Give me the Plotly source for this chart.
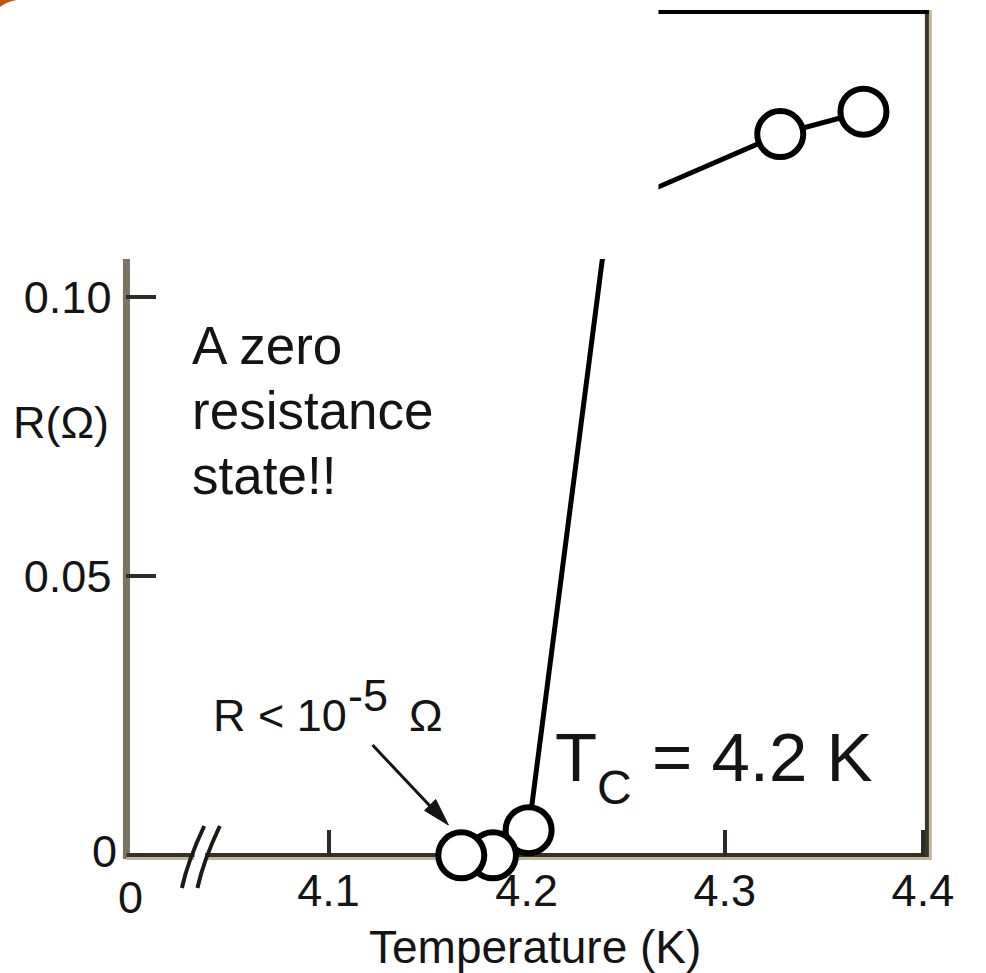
import plotly.graph_objects as go

W, H = 986, 973
FONT = "Liberation Sans, Arial, Helvetica, sans-serif"
INK = "#141414"

# ---- data: mercury resistance vs temperature ----------------------------
# superconducting transition (lower panel, R in ohm)
temp_low = [4.167, 4.183, 4.201]
res_low = [0.0, 0.0, 0.0045]
# the steep rise leaves the lower panel through its top edge
temp_rise = [4.167, 4.183, 4.201, 4.243]
res_rise = [0.0, 0.0, 0.0045, 0.120]

# normal-state points shown above the axis break
temp_high = [4.328, 4.370]
res_high = [0.1323, 0.1363]
temp_high_line = [4.255, 4.328, 4.370]
res_high_line = [0.1211, 0.1323, 0.1363]

x_tickvals = [4.1, 4.2, 4.3, 4.4]
x_ticktext = ["4.1", "4.2", "4.3", "4.4"]
y_tickvals = [0.05, 0.10]
y_ticktext = ["0.05", "0.10"]


# ---- pixel helpers (figure is laid out on a 986 x 973 canvas) ------------
def fx(px):
    return px / W


def fy(py):
    return 1 - py / H


def path(*cmds):
    out = []
    for c in cmds:
        if c[0] == "Z":
            out.append("Z")
        else:
            pts = " ".join(f"{fx(x):.5f},{fy(y):.5f}" for x, y in c[1:])
            out.append(f"{c[0]} {pts}")
    return " ".join(out)


def text(t, x, base, size, xanchor="left"):
    # place a single line of text by its baseline
    bottom = base + 0.212 * size + 2
    return dict(text=t, x=fx(x), y=fy(bottom), xref="paper", yref="paper",
                xanchor=xanchor, yanchor="bottom", showarrow=False,
                font=dict(family=FONT, size=size, color=INK))


def seg(x0, y0, x1, y1, color, width, layer="below"):
    return dict(type="line", xref="paper", yref="paper",
                x0=fx(x0), y0=fy(y0), x1=fx(x1), y1=fy(y1),
                line=dict(color=color, width=width), layer=layer)


# plot frame in pixels
LEFT, RIGHT, BOTTOM, TOP_LOW, TOP = 130, 953, 857, 259, 12
UP_LEFT = 677
PX_PER_K = 2037.0
PX_PER_OHM = 5580.0
T_AT_LEFT = 3.998
R_AT_BOTTOM = -0.0003

circle = dict(symbol="circle", size=46, color="white",
              line=dict(color="black", width=6))

fig = go.Figure()
fig.add_trace(go.Scatter(x=temp_rise, y=res_rise, mode="lines",
                         line=dict(color="black", width=5),
                         xaxis="x", yaxis="y", hoverinfo="skip"))
# drawn right-to-left so the coldest point sits on top
fig.add_trace(go.Scatter(x=temp_low[::-1], y=res_low[::-1], mode="markers",
                         marker=circle, cliponaxis=False,
                         xaxis="x", yaxis="y"))
fig.add_trace(go.Scatter(x=temp_high_line, y=res_high_line, mode="lines",
                         line=dict(color="black", width=5),
                         xaxis="x2", yaxis="y2", hoverinfo="skip"))
fig.add_trace(go.Scatter(x=temp_high, y=res_high, mode="markers",
                         marker=circle, cliponaxis=False,
                         xaxis="x2", yaxis="y2"))

t_right = T_AT_LEFT + (RIGHT - LEFT) / PX_PER_K
r_top_low = R_AT_BOTTOM + (BOTTOM - TOP_LOW) / PX_PER_OHM
r_up0 = 0.110
r_up1 = r_up0 + (TOP_LOW - TOP) / 5600.0

axis_common = dict(showgrid=False, zeroline=False, showline=False,
                   layer="below traces")

fig.update_layout(
    width=W, height=H,
    margin=dict(l=0, r=0, t=0, b=0),
    paper_bgcolor="white", plot_bgcolor="rgba(0,0,0,0)",
    showlegend=False,
    xaxis=dict(domain=[fx(LEFT), fx(RIGHT)], range=[T_AT_LEFT, t_right],
               anchor="y", tickmode="array", tickvals=x_tickvals,
               ticktext=x_ticktext, ticks="inside", ticklen=27,
               tickwidth=4, tickcolor="#2e2b25", ticklabelstandoff=3,
               tickfont=dict(family=FONT, size=45, color=INK),
               **axis_common),
    yaxis=dict(domain=[fy(BOTTOM), fy(TOP_LOW)], range=[R_AT_BOTTOM, r_top_low],
               anchor="x", tickmode="array", tickvals=y_tickvals,
               ticktext=y_ticktext, ticks="inside", ticklen=30,
               tickwidth=4, tickcolor="#2e2b25", ticklabelstandoff=14,
               tickfont=dict(family=FONT, size=45, color=INK),
               **axis_common),
    xaxis2=dict(domain=[fx(UP_LEFT), fx(RIGHT)],
                range=[t_right - (RIGHT - UP_LEFT) / PX_PER_K, t_right],
                anchor="y2", visible=False),
    yaxis2=dict(domain=[fy(TOP_LOW), fy(TOP)], range=[r_up0, r_up1],
                anchor="x2", visible=False),
)

shapes = [
    # corner flourish
    dict(type="path", xref="paper", yref="paper", layer="below",
         path=path(("M", (0, 0)), ("L", (17, 0)), ("Q", (6, 2), (0, 7)), ("Z",)),
         fillcolor="#c4530a", line=dict(width=0)),
    # left axis
    seg(LEFT, TOP_LOW, LEFT, BOTTOM + 2, "#7b7464", 7),
    # bottom axis (dark edge with a light shadow)
    seg(LEFT, BOTTOM + 1.5, RIGHT + 4, BOTTOM + 1.5, "#c2b496", 3),
    seg(LEFT, BOTTOM - 2, RIGHT + 1, BOTTOM - 2, "#34312a", 4),
    # right border
    seg(RIGHT + 3.5, TOP - 2, RIGHT + 3.5, BOTTOM + 3, "#c2b496", 3),
    seg(RIGHT, TOP - 2, RIGHT, BOTTOM, "#3a362e", 4),
    # top border of the upper panel
    seg(UP_LEFT, TOP, RIGHT + 2, TOP, "black", 4),
    # axis break on the temperature axis
    dict(type="rect", xref="paper", yref="paper", layer="below",
         x0=fx(200), x1=fx(211), y0=fy(850), y1=fy(864),
         fillcolor="white", line=dict(width=0)),
    dict(type="path", xref="paper", yref="paper", layer="below",
         path=path(("M", (187, 888)), ("Q", (193, 861), (210, 826))),
         line=dict(color="#1b1a17", width=4)),
    dict(type="path", xref="paper", yref="paper", layer="below",
         path=path(("M", (203, 888)), ("Q", (209, 861), (226, 826))),
         line=dict(color="#1b1a17", width=4)),
    # pointer to the zero-resistance points
    seg(383, 745, 445, 809, "#141414", 3, layer="above"),
    dict(type="path", xref="paper", yref="paper", layer="above",
         path=path(("M", (461, 825)), ("L", (436.5, 810.5)), ("L", (448, 799.5)), ("Z",)),
         fillcolor="#141414", line=dict(color="#141414", width=1)),
]
fig.update_layout(shapes=shapes)

annotations = [
    text("0", 134, 913, 45, xanchor="center"),
    text("0", 122, 867, 45, xanchor="right"),
    text("R(Ω)", 11, 438, 45),
    text("Temperature (K)", 377, 963, 46),
    text("A zero", 195, 364, 53),
    text("resistance", 195, 429, 53),
    text("state!!", 195, 494, 53),
    text("R < 10", 217, 731, 45),
    text("-5", 356, 711, 45),
    text("Ω", 418, 731, 45),
    text("T", 569, 781, 69),
    text("C", 612, 804, 48),
    text("= 4.2 K", 668, 781, 69),
]
fig.update_layout(annotations=annotations)

fig.write_html("out.html")
